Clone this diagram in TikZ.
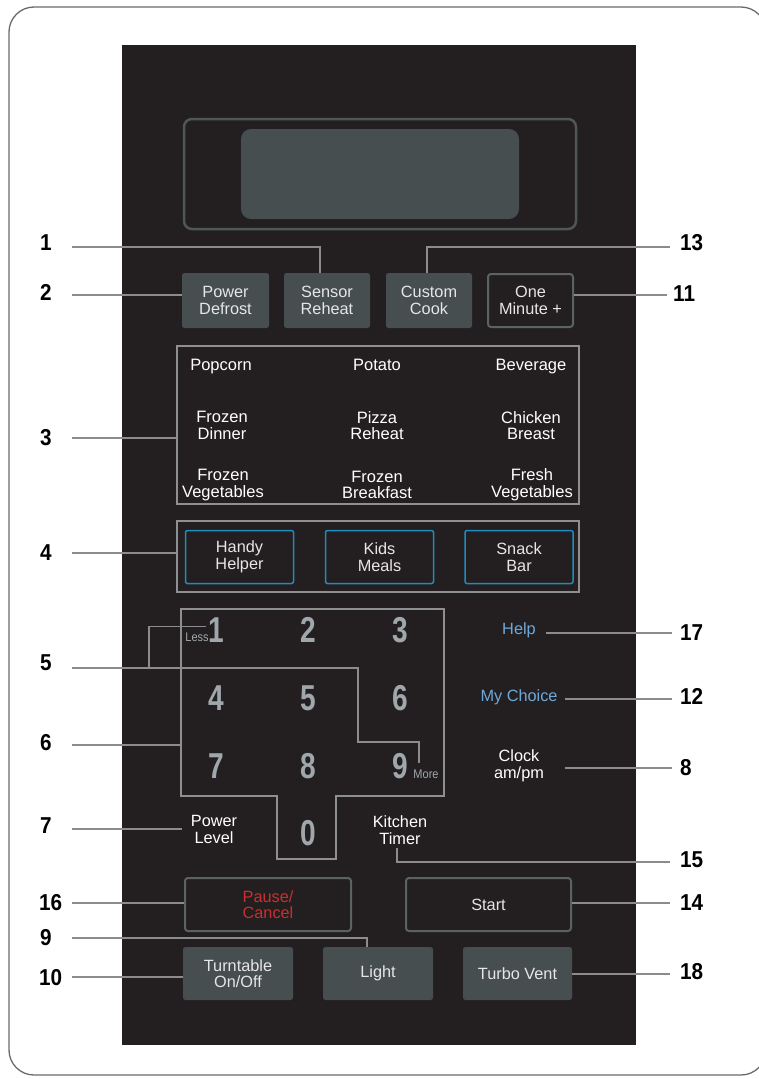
\documentclass[tikz,border=0pt]{standalone}
\usepackage{fontspec}
\setmainfont{Liberation Sans}
\newfontfamily\labfont[FakeStretch=0.9]{Liberation Sans}
\newfontfamily\keyfont[FakeStretch=0.78]{Liberation Sans}
\newfontfamily\smallfont[FakeStretch=0.88]{Liberation Sans}
\definecolor{panelc}{HTML}{231F20}
\definecolor{btngray}{HTML}{464E50}
\definecolor{dispedge}{HTML}{4E5658}
\definecolor{obtnedge}{HTML}{5A6264}
\definecolor{linegray}{HTML}{8C8C8C}
\definecolor{boxgray}{HTML}{8E8F91}
\definecolor{btntext}{HTML}{E6E6E6}
\definecolor{keygray}{HTML}{A0A7AC}
\definecolor{catblue}{HTML}{1E8CBE}
\definecolor{helpblue}{HTML}{6DA8DB}
\definecolor{pausered}{HTML}{C8302F}
\definecolor{framegray}{HTML}{6A6A6A}
\begin{document}
\begin{tikzpicture}[x=1pt,y=-1pt,
  lab/.style={font=\labfont\bfseries\fontsize{23}{23}\selectfont, text=black, inner sep=0},
  callout/.style={draw=linegray, line width=1.3pt},
  boxline/.style={draw=boxgray, line width=1.3pt},
  btnfont/.style={font=\fontsize{16.3}{16.5}\selectfont, text=btntext, align=center},
  gbtn/.style={btnfont, fill=btngray, rounded corners=2.5pt, inner sep=0},
  obtn/.style={btnfont, fill=panelc, draw=obtnedge, line width=2pt, rounded corners=3pt, inner sep=0},
  bbtn/.style={btnfont, fill=panelc, draw=catblue, line width=1.5pt, rounded corners=2pt, inner sep=0},
  food/.style={font=\fontsize{16.5}{16.7}\selectfont, text=white, align=center, inner sep=0},
  food1/.style={food, anchor=base},
  keydig/.style={font=\keyfont\bfseries\fontsize{36}{36}\selectfont, text=keygray, inner sep=0},
  tiny/.style={font=\smallfont\fontsize{12.5}{12.5}\selectfont, text=keygray, inner sep=0},
  side/.style={font=\fontsize{16.3}{16.7}\selectfont, align=center, inner ysep=0}
]
\useasboundingbox (0,0) rectangle (758,1079);
% outer frame
\draw[draw=framegray, line width=1.3pt, rounded corners=25pt] (9,7) rectangle (766,1075);
% panel
\fill[panelc] (122,45) rectangle (636,1045);
% display
\draw[draw=dispedge, fill=panelc, line width=2.5pt, rounded corners=8pt] (184,119) rectangle (576,229);
\fill[btngray, rounded corners=10pt] (241,129) rectangle (519,219);

% top buttons
\node[gbtn, minimum width=87, minimum height=55] (pdef) at (225.5,300.5) {Power\\Defrost};
\node[gbtn, minimum width=86, minimum height=55] (sreh) at (327,300.5) {Sensor\\Reheat};
\node[gbtn, minimum width=86, minimum height=55] (ccook) at (429,300.5) {Custom\\Cook};
\node[obtn, minimum width=85, minimum height=53] (omin) at (530.5,300.5) {One\\Minute +};

% food box
\node[boxline, minimum width=402, minimum height=158, inner sep=0] (foodbox) at (378,425) {};
\node[food1] (f11) at (221,370) {Popcorn};
\node[food1] (f12) at (377,370) {Potato};
\node[food1] (f13) at (531,370) {Beverage};
\node[food] (f21) at (222,425.5) {Frozen\\Dinner};
\node[food] (f22) at (377,425.5) {Pizza\\Reheat};
\node[food] (f23) at (531,425.5) {Chicken\\Breast};
\node[food] (f31) at (223,485) {Frozen\\Vegetables};
\node[food] (f32) at (377,485) {Frozen\\Breakfast};
\node[food] (f33) at (532,485) {Fresh\\Vegetables};

% category box
\node[boxline, minimum width=402, minimum height=71, inner sep=0] (catbox) at (378,556.5) {};
\node[bbtn, minimum width=108, minimum height=53] (handy) at (239.5,557) {Handy\\Helper};
\node[bbtn, minimum width=108, minimum height=53] (kids) at (379.5,557) {Kids\\Meals};
\node[bbtn, minimum width=108, minimum height=53] (snack) at (519,557) {Snack\\Bar};

% keypad
\draw[boxline] (181,609) -- (444,609) -- (444,796) -- (336,796) -- (336,859) -- (277,859) -- (277,796) -- (181,796) -- cycle;
\coordinate (padW) at (181,745);
\node[keydig] (k1) at (216,630) {1};
\node[keydig] (k2) at (308,630) {2};
\node[keydig] (k3) at (400,630) {3};
\node[keydig] (k4) at (216,698) {4};
\node[keydig] (k5) at (308,698) {5};
\node[keydig] (k6) at (400,698) {6};
\node[keydig] (k7) at (216,766) {7};
\node[keydig] (k8) at (308,766) {8};
\node[keydig] (k9) at (400,766) {9};
\node[keydig] (k0) at (308,833) {0};
\node[tiny] (less) at (197,637) {Less};
\node[tiny] (more) at (426,774) {More};

% side texts
\node[side, text=white, inner xsep=9pt] (plev) at (214,829.5) {Power\\Level};
\node[side, text=white, inner ysep=3pt] (timer) at (400,830) {Kitchen\\Timer};
\node[side, text=helpblue, inner xsep=10pt] (help) at (519,630) {Help};
\node[side, text=helpblue, inner xsep=7.5pt] (mych) at (519,697) {My Choice};
\node[side, text=white, inner xsep=21pt] (clock) at (519,766) {Clock\\am/pm};

% bottom buttons
\node[obtn, minimum width=166, minimum height=53, text=pausered] (pause) at (268,904.5) {Pause/\\Cancel};
\node[obtn, minimum width=165, minimum height=53] (start) at (488.5,904.5) {Start};
\node[gbtn, minimum width=110, minimum height=53] (turn) at (238,973.5) {Turntable\\On/Off};
\node[gbtn, minimum width=110, minimum height=53] (light) at (378,973.5) {Light};
\node[gbtn, minimum width=109, minimum height=53] (turbo) at (517.5,973.5) {Turbo Vent};

% labels left
\node[lab, anchor=west] (n1) at (40,243) {1};
\node[lab, anchor=west] (n2) at (40,292) {2};
\node[lab, anchor=west] (n3) at (40,438) {3};
\node[lab, anchor=west] (n4) at (40,553) {4};
\node[lab, anchor=west] (n5) at (40,663) {5};
\node[lab, anchor=west] (n6) at (40,743) {6};
\node[lab, anchor=west] (n7) at (40,826) {7};
\node[lab, anchor=west] (n16) at (39,903) {16};
\node[lab, anchor=west] (n9) at (40,938) {9};
\node[lab, anchor=west] (n10) at (39,978) {10};
% labels right
\node[lab, anchor=west] (n13) at (680,243) {13};
\node[lab, anchor=west] (n11) at (673,294) {11};
\node[lab, anchor=west] (n17) at (680,633) {17};
\node[lab, anchor=west] (n12) at (680,696) {12};
\node[lab, anchor=west] (n8) at (680,768) {8};
\node[lab, anchor=west] (n15) at (680,860) {15};
\node[lab, anchor=west] (n14) at (680,903) {14};
\node[lab, anchor=west] (n18) at (680,972) {18};

% callout start coordinates
\coordinate (c1) at (72,247);
\coordinate (c2) at (72,295);
\coordinate (c3) at (72,438);
\coordinate (c4) at (72,553);
\coordinate (c5) at (72,668);
\coordinate (j5) at (149,668);
\coordinate (c6) at (72,745);
\coordinate (c7) at (72,829);
\coordinate (c16) at (72,903);
\coordinate (c9) at (72,938);
\coordinate (c10) at (72,977);
\coordinate (c13) at (670,247);
\coordinate (c11) at (667,295);
\coordinate (c17) at (672,633);
\coordinate (c12) at (672,699);
\coordinate (c8) at (672,768);
\coordinate (c15) at (670,862);
\coordinate (c14) at (670,903);
\coordinate (c18) at (670,974);

% callouts
\draw[callout] (c1) -| ([xshift=-7pt]sreh.north);
\draw[callout] (c2) -- (c2 -| pdef.west);
\draw[callout] (c3) -- (c3 -| foodbox.west);
\draw[callout] (c4) -- (c4 -| catbox.west);
\draw[callout] (c5) -| (358,742) -| ([xshift=-7pt,yshift=6pt]more.north);
\draw[callout] (j5) |- ([xshift=-2.5pt,yshift=6pt]less.north east);
\draw[callout] (c6) -- (padW);
\draw[callout] (c7) -- (c7 -| plev.west);
\draw[callout] (c16) -- (c16 -| pause.west);
\draw[callout] (c9) -| ([xshift=-11pt]light.north);
\draw[callout] (c10) -- (c10 -| turn.west);
\draw[callout] (c13) -| ([xshift=-2pt]ccook.north);
\draw[callout] (c11 -| omin.east) -- (c11);
\draw[callout] (c17 -| help.east) -- (c17);
\draw[callout] (c12 -| mych.east) -- (c12);
\draw[callout] (c8 -| clock.east) -- (c8);
\draw[callout] ([xshift=-3pt]timer.south) |- (c15);
\draw[callout] (c14 -| start.east) -- (c14);
\draw[callout] (c18 -| turbo.east) -- (c18);
\end{tikzpicture}
\end{document}
